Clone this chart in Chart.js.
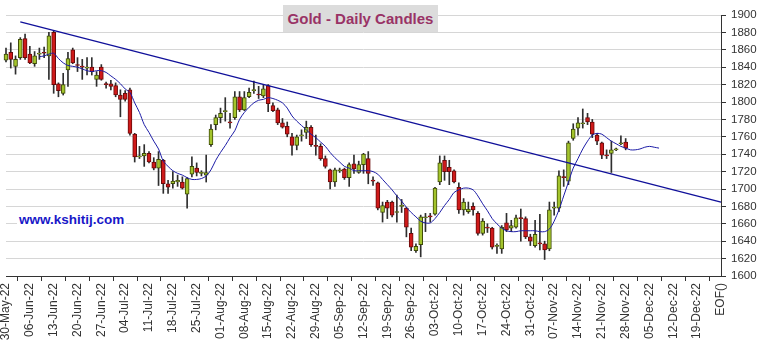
<!DOCTYPE html>
<html>
<head>
<meta charset="utf-8">
<script src="https://cdn.jsdelivr.net/npm/chart.js@4.4.0/dist/chart.umd.min.js"></script>
<style>
  html, body { margin: 0; padding: 0; background: #fff; }
  #wrap { position: relative; width: 763px; height: 344px; }
  #title {
    position: absolute; left: 283px; top: 5px; width: 155px; height: 27px;
    background: #dcdcdc; color: #993366; font: bold 15px "Liberation Sans", Arial, sans-serif;
    text-align: center; line-height: 27px;
  }
  #site {
    position: absolute; left: 17px; top: 211px; padding: 0 2px; background: #fff;
    color: #1818c8; font: bold 13.5px "Liberation Sans", Arial, sans-serif; line-height: 18px;
  }
</style>
</head>
<body>
<div id="wrap">
  <canvas id="goldChart" width="763" height="344"></canvas>
  <div id="title">Gold - Daily Candles</div>
  <div id="site">www.kshitij.com</div>
</div>
<script>
// weekly tick labels (Mondays), 5 trading days per week, EOF() at the end
var weekLabels = ['30-May-22','06-Jun-22','13-Jun-22','20-Jun-22','27-Jun-22','04-Jul-22','11-Jul-22',
  '18-Jul-22','25-Jul-22','01-Aug-22','08-Aug-22','15-Aug-22','22-Aug-22','29-Aug-22','05-Sep-22',
  '12-Sep-22','19-Sep-22','26-Sep-22','03-Oct-22','10-Oct-22','17-Oct-22','24-Oct-22','31-Oct-22',
  '07-Nov-22','14-Nov-22','21-Nov-22','28-Nov-22','05-Dec-22','12-Dec-22','19-Dec-22'];
var endLabel = 'EOF()';

// daily OHLC, 30-May-22 .. 28-Nov-22
var open = [1848,1857,1841,1851,1873,1855,1844,1855,1857,1853,1880,1821,1810,1837,1860,1843,1841,1839,1840,1826,
  1840,1821,1821,1819,1808,1810,1814,1763,1737,1738,1741,1731,1724,1733,1706,1706,1708,1708,1694,1717,
  1724,1718,1716,1751,1774,1782,1789,1777,1782,1806,1791,1806,1813,1809,1807,1819,1796,1791,1776,1772,
  1760,1750,1761,1765,1771,1750,1749,1735,1722,1708,1721,1723,1713,1729,1719,1728,1735,1710,1707,1673,
  1685,1685,1673,1680,1678,1649,1629,1636,1667,1669,1671,1708,1733,1725,1721,1702,1676,1674,1680,1672,
  1649,1656,1655,1634,1631,1661,1655,1656,1667,1666,1645,1635,1638,1637,1631,1678,1678,1714,1709,1758,
  1770,1775,1782,1777,1762,1753,1739,1741,1745,1752,1754];
var high = [1862,1868,1853,1874,1878,1864,1858,1862,1863,1880,1882,1822,1833,1857,1862,1851,1849,1851,1851,1835,
  1843,1823,1825,1822,1814,1813,1816,1764,1749,1751,1743,1736,1743,1734,1710,1720,1716,1714,1713,1737,
  1730,1721,1739,1774,1785,1793,1805,1787,1812,1812,1812,1816,1824,1818,1820,1820,1799,1793,1781,1777,
  1764,1762,1768,1778,1773,1762,1752,1738,1723,1724,1724,1724,1730,1739,1732,1741,1743,1714,1708,1685,
  1687,1686,1693,1688,1679,1655,1637,1670,1672,1672,1702,1738,1738,1733,1722,1707,1689,1685,1684,1674,
  1666,1660,1656,1637,1658,1672,1664,1670,1677,1668,1648,1664,1671,1640,1685,1685,1721,1722,1755,1775,
  1782,1792,1787,1780,1764,1754,1745,1755,1747,1761,1758];
var low = [1846,1839,1832,1849,1849,1844,1841,1849,1851,1826,1810,1806,1808,1818,1844,1835,1826,1831,1831,1818,
  1825,1816,1814,1806,1783,1801,1762,1731,1735,1726,1730,1722,1704,1695,1695,1701,1703,1700,1678,1714,
  1715,1715,1708,1749,1768,1776,1778,1770,1780,1789,1790,1805,1810,1804,1805,1789,1789,1774,1770,1760,
  1739,1745,1755,1758,1749,1739,1733,1724,1700,1703,1719,1711,1703,1718,1718,1718,1706,1704,1676,1662,
  1666,1668,1662,1673,1645,1629,1627,1622,1651,1662,1670,1705,1710,1705,1707,1672,1670,1672,1670,1647,
  1647,1650,1631,1626,1626,1651,1651,1655,1640,1643,1635,1633,1630,1619,1629,1670,1674,1703,1705,1756,
  1762,1770,1774,1759,1751,1735,1735,1719,1744,1751,1745];
var close = [1855,1849,1849,1872,1851,1845,1853,1856,1856,1876,1820,1813,1820,1850,1845,1842,1840,1840,1835,1831,
  1826,1820,1818,1808,1803,1803,1764,1737,1738,1741,1731,1724,1734,1706,1702,1709,1710,1701,1712,1726,
  1719,1719,1719,1769,1782,1787,1790,1776,1806,1791,1805,1811,1814,1808,1815,1798,1790,1776,1771,1763,
  1750,1760,1762,1771,1751,1749,1735,1726,1708,1722,1722,1713,1728,1723,1728,1740,1718,1709,1678,1681,
  1678,1670,1674,1681,1656,1633,1634,1668,1668,1668,1701,1730,1720,1720,1708,1676,1685,1677,1676,1649,
  1663,1655,1633,1635,1656,1653,1658,1667,1666,1645,1640,1648,1637,1630,1676,1679,1715,1713,1753,1769,
  1776,1776,1777,1763,1755,1739,1738,1745,1746,1753,1747];

// moving average as drawn (starts at day 7, runs a few days past the last candle)
var maStart = 7;
var maValues = [1852,1853,1855,1856,1850,1845,1842,1841,1840,1838,1836,1835,1836,1836,1834,1830,1826,1821,1815,1811,
  1799,1788,1774,1765,1755,1746,1732,1726,1721,1718,1716,1713,1711,1711,1712,1715,1722,1733,1742,1750,
  1759,1767,1780,1788,1794,1799,1802,1803,1805,1804,1802,1799,1793,1784,1778,1773,1768,1763,1759,1754,
  1749,1742,1736,1731,1726,1724,1721,1721,1721,1721,1720,1717,1711,1705,1699,1692,1686,1679,1673,1668,
  1663,1661,1661,1666,1673,1681,1688,1696,1699,1701,1701,1699,1692,1683,1675,1666,1660,1655,1652,1651,
  1651,1652,1652,1652,1652,1651,1651,1654,1663,1676,1692,1708,1724,1735,1746,1755,1762,1764,1763,1759,
  1755,1752,1749,1747,1745,1745,1746,1748,1749,1748,1747];

// trend line end points (day index, price)
var trendDays = [3, 150];
var trendPrices = [1892, 1685];

var dayLabels = [];
weekLabels.forEach(function(w) { dayLabels.push(w, '', '', '', ''); });
dayLabels.push(endLabel);

var bodies = open.map(function(o, i) { return [o, close[i]]; });
var wicks = low.map(function(l, i) { return [l, high[i]]; });
var maData = dayLabels.map(function(_, i) {
  var k = i - maStart;
  return (k >= 0 && k < maValues.length) ? maValues[k] : null;
});
var trendData = dayLabels.map(function() { return null; });
trendDays.forEach(function(d, k) { trendData[d] = trendPrices[k]; });

function isUp(i) { return close[i] >= open[i]; }
var xFont = { family: '"Liberation Sans", Arial, sans-serif', size: 12 };
var yFont = { family: '"Liberation Sans", Arial, sans-serif', size: 11.5 };

new Chart(document.getElementById('goldChart'), {
  type: 'bar',
  data: {
    labels: dayLabels,
    datasets: [
      {
        label: 'range', data: wicks, grouped: false, barThickness: 1,
        backgroundColor: '#2e2e2e', borderWidth: 0, order: 3, clip: false
      },
      {
        label: 'body', data: bodies, grouped: false, barThickness: 4, minBarLength: 1,
        backgroundColor: function(c) { return isUp(c.dataIndex) ? '#a3c42c' : '#cf1a1a'; },
        borderColor: function(c) { return isUp(c.dataIndex) ? '#3d4a08' : '#6a0a0a'; },
        borderWidth: 1, borderSkipped: false, order: 2, clip: false
      },
      {
        type: 'line', label: 'MA', data: maData, borderColor: '#1c1ca6', borderWidth: 1,
        pointRadius: 0, tension: 0.3, spanGaps: false, order: 1
      },
      {
        type: 'line', label: 'trend', data: trendData, borderColor: '#10109a', borderWidth: 1.3,
        pointRadius: 0, spanGaps: true, order: 0
      }
    ]
  },
  options: {
    responsive: false,
    animation: false,
    devicePixelRatio: 1,
    layout: { padding: { left: 6, top: 15, right: 0, bottom: 0 } },
    plugins: { legend: { display: false }, tooltip: { enabled: false } },
    scales: {
      x: {
        type: 'category', offset: false,
        grid: { display: true, drawOnChartArea: false, tickLength: 5, color: '#333', tickColor: '#333' },
        border: { display: true, color: '#333' },
        ticks: {
          autoSkip: false, minRotation: 90, maxRotation: 90, padding: 2, color: '#333', font: xFont,
          callback: function(v, i) { var l = dayLabels[i]; return l === '' ? null : l; }
        },
        afterFit: function(s) { s.height = 68; }
      },
      y: {
        position: 'right', min: 1600, max: 1900,
        grid: { color: '#d6d6d6', tickColor: '#333', tickLength: 5 },
        border: { color: '#333' },
        ticks: {
          stepSize: 20, padding: 5, color: '#333', font: yFont,
          callback: function(v) { return String(v); }
        },
        afterFit: function(s) { s.width = 42; }
      }
    }
  }
});
</script>
</body>
</html>
